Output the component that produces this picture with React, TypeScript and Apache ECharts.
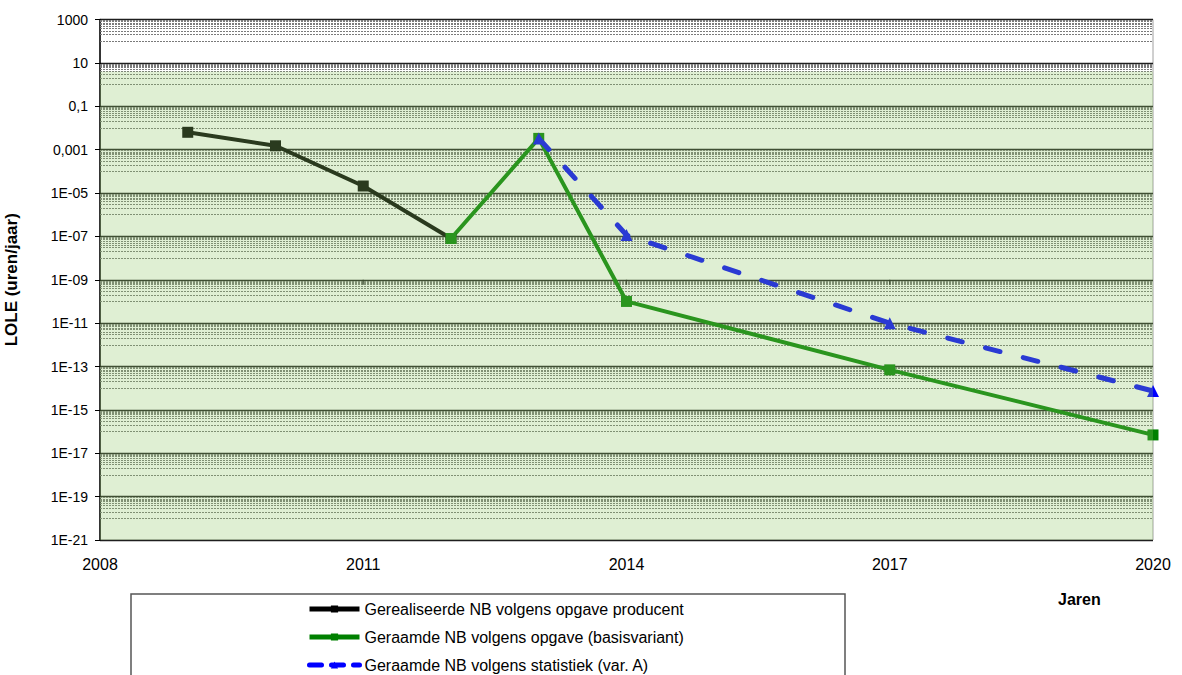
import React, { useEffect, useRef } from "react";
import * as echarts from "echarts";

// ---- data ----
const xTickYears = [2008, 2011, 2014, 2017, 2020];
const yTickExponents = [-21, -19, -17, -15, -13, -11, -9, -7, -5, -3, -1, 1, 3];
const yTickLabels = ["1E-21", "1E-19", "1E-17", "1E-15", "1E-13", "1E-11", "1E-09", "1E-07", "1E-05", "0,001", "0,1", "10", "1000"];

const seriesNames = [
  "Gerealiseerde NB volgens opgave producent",
  "Geraamde NB volgens opgave (basisvariant)",
  "Geraamde NB volgens statistiek (var. A)",
];

const realisedYears = [2009, 2010, 2011, 2012];
const realisedValues = [0.0063, 0.0015, 2.1e-5, 8e-8];

const baseYears = [2012, 2013, 2014, 2017, 2020];
const baseValues = [8e-8, 0.0033, 1e-10, 7e-14, 7e-17];

const statYears = [2013, 2014, 2017, 2020];
const statValues = [0.0033, 1.15e-7, 1e-11, 7.4e-15];

const normValue = 4; // LOLE norm (uren/jaar)
const crossingValue = 1e-9; // horizontal axis crosses here

// ---- helpers (axis transforms) ----
const X0 = xTickYears[0];
const XMAX = xTickYears[xTickYears.length - 1];
const YEXP0 = yTickExponents[0];
const YEXPMAX = yTickExponents[yTickExponents.length - 1];
const tx = (year: number) => year - X0;
const ty = (v: number) => Math.log10(v) - YEXP0;

const FONT = "'Liberation Sans', Arial, sans-serif";

export default function App() {
  const ref = useRef<HTMLDivElement>(null);

  useEffect(() => {
    if (!ref.current) return;
    const chart = echarts.init(ref.current, undefined, { renderer: "svg" });

    // minor grid lines: k * 10^(e-1) for each major exponent e
    const minorLines: any[] = [];
    yTickExponents.slice(1).forEach((e) => {
      for (let k = 1; k <= 9; k++) {
        minorLines.push({ yAxis: ty(k * Math.pow(10, e - 1)) });
      }
    });

    const pairs = (ys: number[], vs: number[]) => ys.map((y, i) => [tx(y), ty(vs[i])]);

    const option: any = {
      animation: false,
      backgroundColor: "#ffffff",
      textStyle: { fontFamily: FONT },
      grid: {
        left: 100,
        right: 29,
        top: 19.5,
        bottom: 135,
        containLabel: false,
        outerBoundsMode: "none",
        show: true,
        borderColor: "#a0a0a0",
        borderWidth: 1,
        backgroundColor: "transparent",
      },
      xAxis: {
        type: "value",
        min: 0,
        max: XMAX - X0,
        interval: 3,
        axisLine: { show: false },
        axisTick: { show: false },
        splitLine: { show: false },
        axisLabel: {
          fontSize: 16,
          color: "#000",
          fontFamily: FONT,
          margin: 16,
          formatter: (v: number) => String(v + X0),
        },
      },
      yAxis: {
        type: "value",
        min: 0,
        max: YEXPMAX - YEXP0,
        interval: 2,
        name: "LOLE (uren/jaar)",
        nameLocation: "middle",
        nameGap: 80,
        nameTextStyle: { fontWeight: "bold", fontSize: 17, color: "#000", fontFamily: FONT },
        axisLine: { show: true, lineStyle: { color: "#000", width: 1.5 } },
        axisTick: { show: true, length: 5, lineStyle: { color: "#000", width: 1 } },
        axisLabel: {
          fontSize: 14,
          color: "#000",
          fontFamily: FONT,
          margin: 12,
          formatter: (v: number) => {
            const i = yTickExponents.indexOf(Math.round(v + YEXP0));
            return i >= 0 ? yTickLabels[i] : "";
          },
        },
        splitLine: { show: true, lineStyle: { color: "#1e1e1e", width: 1.3 } },
      },
      legend: {
        orient: "vertical",
        left: 307,
        top: 601,
        padding: 0,
        itemGap: 12,
        itemWidth: 50,
        itemHeight: 9,
        z: 5,
        textStyle: { fontSize: 16, color: "#000", fontFamily: FONT },
        data: [
          { name: seriesNames[0], itemStyle: { color: "#000" }, lineStyle: { color: "#000", width: 5 } },
          { name: seriesNames[1], itemStyle: { color: "#008000" }, lineStyle: { color: "#008000", width: 5 } },
          { name: seriesNames[2], itemStyle: { color: "#0000ff" }, lineStyle: { color: "#0000ff", width: 5, type: [12, 10], cap: "round" } },
        ],
      },
      graphic: [
        {
          type: "rect",
          z: 0,
          shape: { x: 131, y: 594, width: 714, height: 120 },
          style: { fill: "#ffffff", stroke: "#555555", lineWidth: 1.5 },
          silent: true,
        },
        {
          type: "text",
          left: 1058,
          top: 591,
          style: { text: "Jaren", fontSize: 16, fontWeight: "bold", fill: "#000", fontFamily: FONT },
          silent: true,
        },
      ],
      series: [
        {
          name: "minor-grid",
          type: "line",
          data: [[0, 0]],
          symbol: "none",
          lineStyle: { opacity: 0 },
          silent: true,
          z: 1,
          markLine: {
            z: 1,
            silent: true,
            symbol: ["none", "none"],
            label: { show: false },
            emphasis: { disabled: true },
            lineStyle: { color: "#7a7a7a", width: 1, type: [2, 1] },
            data: minorLines,
          },
        },
        {
          name: "x-ticks",
          type: "scatter",
          data: xTickYears.slice(1, -1).map((y) => [tx(y), ty(crossingValue)]),
          symbol: "rect",
          symbolSize: [1.3, 5],
          symbolOffset: [0, 2.5],
          itemStyle: { color: "#111" },
          silent: true,
          z: 2,
        },
        {
          name: seriesNames[0],
          type: "line",
          data: pairs(realisedYears, realisedValues),
          color: "#000000",
          symbol: "rect",
          symbolSize: 11,
          lineStyle: { width: 4, color: "#000000" },
          itemStyle: { color: "#000000" },
          z: 3,
        },
        {
          name: seriesNames[1],
          type: "line",
          data: pairs(baseYears, baseValues),
          color: "#008000",
          symbol: "rect",
          symbolSize: 11,
          lineStyle: { width: 4, color: "#008000" },
          itemStyle: { color: "#008000" },
          z: 3,
        },
        {
          name: seriesNames[2],
          type: "line",
          data: pairs(statYears, statValues),
          color: "#0000ff",
          symbol: "triangle",
          symbolSize: 12,
          lineStyle: { width: 5, color: "#0000ff", type: [15, 24], cap: "round" },
          itemStyle: { color: "#0000ff" },
          z: 4,
        },
        {
          name: "norm-area",
          type: "line",
          data: [[0, 0]],
          symbol: "none",
          lineStyle: { opacity: 0 },
          silent: true,
          z: 10,
          markArea: {
            z: 10,
            silent: true,
            itemStyle: { color: "rgb(145,200,103)", opacity: 0.29 },
            data: [[{ xAxis: 0, yAxis: 0 }, { xAxis: XMAX - X0, yAxis: ty(normValue) }]],
          },
        },
      ],
    };

    chart.setOption(option);
    return () => chart.dispose();
  }, []);

  return (
    <div
      ref={ref}
      style={{ position: "fixed", left: 0, top: 0, width: 1182, height: 675, background: "#fff" }}
    />
  );
}
